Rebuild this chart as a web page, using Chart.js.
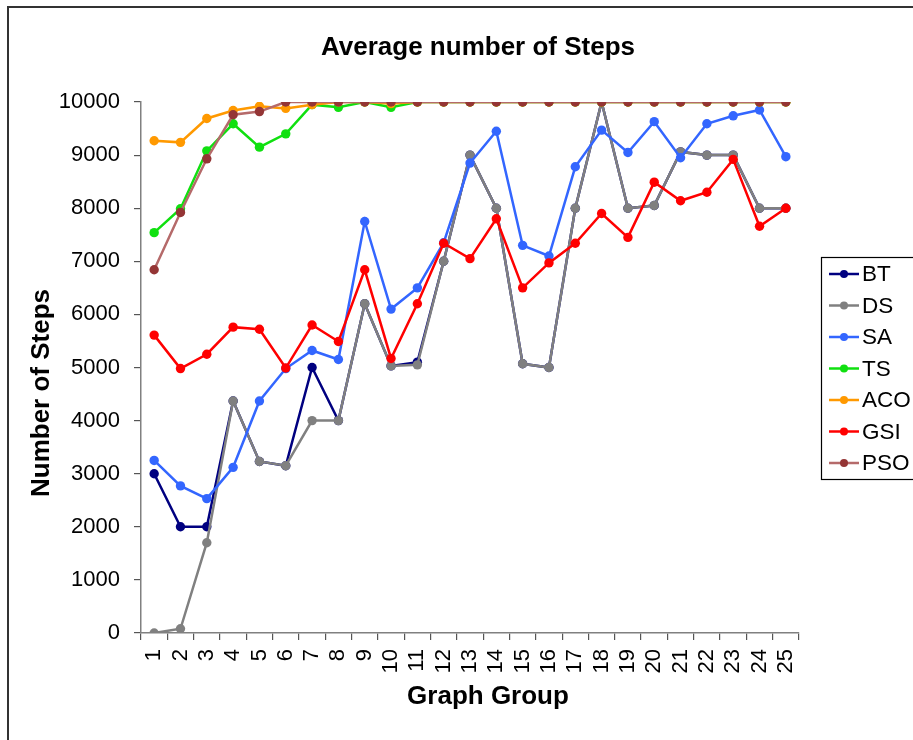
<!DOCTYPE html>
<html>
<head>
<meta charset="utf-8">
<title>Average number of Steps</title>
<script src="https://cdn.jsdelivr.net/npm/chart.js@4/dist/chart.umd.min.js"></script>
<style>
  html, body { margin: 0; padding: 0; background: #ffffff; }
  #wrap { width: 913px; height: 740px; }
</style>
</head>
<body>
<div id="wrap"><canvas id="c" width="913" height="740"></canvas></div>
<script>
// Graph groups 1..25
const groups = ['1','2','3','4','5','6','7','8','9','10','11','12','13','14','15','16','17','18','19','20','21','22','23','24','25'];

// Average number of steps per algorithm
const BT  = [3000, 2000, 2000, 4370, 3230, 3150, 5000, 4000, 6200, 5030, 5100, 7000, 9000, 8000, 5070, 5000, 8000, 10000, 8000, 8050, 9060, 9000, 9000, 8000, 8000];
const DS  = [0, 80, 1700, 4370, 3230, 3150, 4000, 4000, 6200, 5030, 5050, 7000, 9000, 8000, 5070, 5000, 8000, 10000, 8000, 8050, 9060, 9000, 9000, 8000, 8000];
const SA  = [3250, 2770, 2530, 3120, 4370, 4980, 5320, 5150, 7750, 6100, 6500, 7350, 8850, 9450, 7300, 7100, 8780, 9470, 9050, 9630, 8950, 9590, 9740, 9850, 8970];
const TS  = [7540, 7990, 9080, 9590, 9150, 9400, 9950, 9900, 10000, 9900, 10000, 10000, 10000, 10000, 10000, 10000, 10000, 10000, 10000, 10000, 10000, 10000, 10000, 10000, 10000];
const ACO = [9270, 9240, 9690, 9840, 9920, 9880, 9950, 10000, 10000, 9970, 10000, 10000, 10000, 10000, 10000, 10000, 10000, 10000, 10000, 10000, 10000, 10000, 10000, 10000, 10000];
const GSI = [5610, 4980, 5250, 5760, 5720, 4990, 5800, 5490, 6840, 5170, 6200, 7340, 7050, 7800, 6500, 6970, 7340, 7900, 7450, 8490, 8140, 8300, 8920, 7660, 8000];
const PSO = [6840, 7920, 8930, 9760, 9820, 10000, 10000, 10000, 10000, 10000, 10000, 10000, 10000, 10000, 10000, 10000, 10000, 10000, 10000, 10000, 10000, 10000, 10000, 10000, 10000];

const seriesNames = ['BT', 'DS', 'SA', 'TS', 'ACO', 'GSI', 'PSO'];
const seriesData  = [BT, DS, SA, TS, ACO, GSI, PSO];
const lineColors  = ['#000080', '#808080', '#3366ff', '#10e010', '#ff9900', '#ff0000', '#b56a6a'];
const dotColors   = ['#000080', '#808080', '#3366ff', '#10e010', '#ff9900', '#ff0000', '#943535'];

const FONT = '"Liberation Sans", Arial, Helvetica, sans-serif';

const datasets = seriesNames.map((name, i) => ({
  label: name,
  data: seriesData[i],
  borderColor: lineColors[i],
  backgroundColor: dotColors[i],
  pointBackgroundColor: dotColors[i],
  pointBorderColor: dotColors[i],
  borderWidth: 2.5,
  pointRadius: 4.7,
  pointHoverRadius: 4.7,
  pointBorderWidth: 0,
  tension: 0,
  fill: false,
  // later series are painted over earlier ones
  order: seriesNames.length - i
}));

// frame, titles and boxed legend
const decor = {
  id: 'decor',
  beforeDraw(chart) {
    const ctx = chart.ctx;
    ctx.save();
    ctx.fillStyle = '#ffffff';
    ctx.fillRect(0, 0, chart.width, chart.height);
    ctx.strokeStyle = '#333333';
    ctx.lineWidth = 2;
    ctx.strokeRect(8, 7, chart.width + 20, chart.height + 20);
    ctx.restore();
  },
  afterDraw(chart) {
    const ctx = chart.ctx;
    ctx.save();
    ctx.fillStyle = '#000000';
    ctx.textAlign = 'center';
    ctx.textBaseline = 'middle';

    ctx.font = 'bold 26px ' + FONT;
    ctx.fillText('Average number of Steps', 478, 48);
    ctx.fillText('Graph Group', 488, 697);

    ctx.translate(42, 393);
    ctx.rotate(-Math.PI / 2);
    ctx.fillText('Number of Steps', 0, 0);
    ctx.restore();

    // legend
    ctx.save();
    const lx = 821, ly = 257, lh = 222;
    ctx.strokeStyle = '#000000';
    ctx.lineWidth = 1.2;
    ctx.strokeRect(lx + 0.5, ly + 0.5, 200, lh);
    ctx.font = '22.5px ' + FONT;
    ctx.textAlign = 'left';
    ctx.textBaseline = 'middle';
    chart.data.datasets.forEach((ds, i) => {
      const y = 274 + i * 31.5;
      ctx.strokeStyle = ds.borderColor;
      ctx.lineWidth = 2.5;
      ctx.beginPath();
      ctx.moveTo(829, y);
      ctx.lineTo(859, y);
      ctx.stroke();
      ctx.fillStyle = ds.pointBackgroundColor;
      ctx.beginPath();
      ctx.arc(844, y, 4, 0, Math.PI * 2);
      ctx.fill();
      ctx.fillStyle = '#000000';
      ctx.fillText(ds.label, 862, y + 1);
    });
    ctx.restore();
  }
};

new Chart(document.getElementById('c'), {
  type: 'line',
  data: { labels: groups, datasets },
  options: {
    responsive: false,
    animation: false,
    events: [],
    layout: { padding: { top: 102, right: 114, bottom: 0, left: 0 } },
    plugins: {
      legend: { display: false },
      title: { display: false },
      tooltip: { enabled: false }
    },
    scales: {
      x: {
        type: 'category',
        offset: true,
        afterFit(scale) { scale.height = 107; },
        grid: {
          display: true,
          offset: true,
          drawOnChartArea: false,
          drawTicks: true,
          tickLength: 7,
          color: '#555555',
          lineWidth: 1.2
        },
        border: { display: true, color: '#808080', width: 1.5 },
        ticks: {
          minRotation: 90,
          maxRotation: 90,
          autoSkip: false,
          padding: 9,
          color: '#000000',
          font: { family: FONT, size: 22 }
        }
      },
      y: {
        type: 'linear',
        min: 0,
        max: 10000,
        afterFit(scale) { scale.width = 141; },
        grid: {
          display: true,
          drawOnChartArea: false,
          drawTicks: true,
          tickLength: 7,
          color: '#555555',
          lineWidth: 1.2
        },
        border: { display: true, color: '#808080', width: 1.5 },
        ticks: {
          stepSize: 1000,
          padding: 14,
          color: '#000000',
          font: { family: FONT, size: 22 },
          callback: (v) => String(v)
        }
      }
    }
  },
  plugins: [decor]
});
</script>
</body>
</html>
